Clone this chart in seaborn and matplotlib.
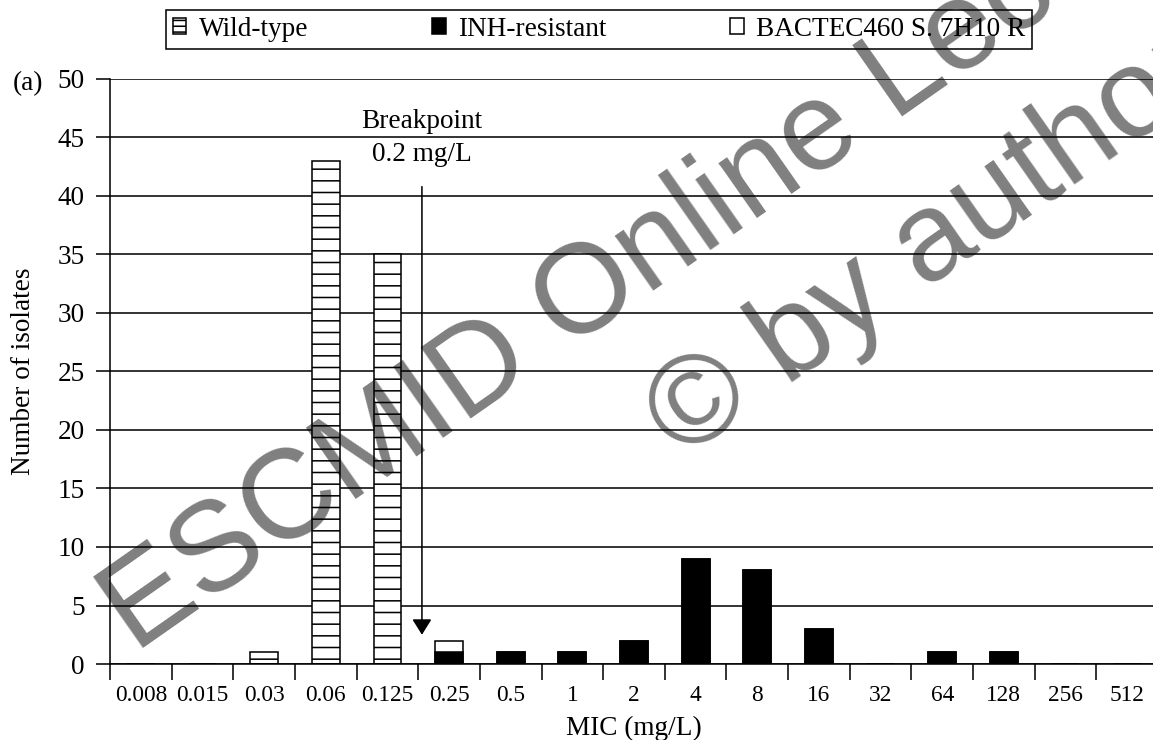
import numpy as np
import pandas as pd
import matplotlib
matplotlib.use("Agg")
import matplotlib.pyplot as plt
import seaborn as sns
from matplotlib.patches import Patch

# ---------------- data ----------------
mic_labels = ["0.008", "0.015", "0.03", "0.06", "0.125", "0.25", "0.5", "1", "2",
              "4", "8", "16", "32", "64", "128", "256", "512"]
wild_type = [0, 0, 1, 43, 35, 0, 0, 0, 0, 0, 0, 0, 0, 0, 0, 0, 0]
inh_resistant = [0, 0, 0, 0, 0, 1, 1, 1, 2, 9, 8, 3, 0, 1, 1, 0, 0]
bactec_s_7h10_r = [0, 0, 0, 0, 0, 1, 0, 0, 0, 0, 0, 0, 0, 0, 0, 0, 0]
series_names = ["Wild-type", "INH-resistant", "BACTEC460 S. 7H10 R"]
y_ticks = list(range(0, 51, 5))
breakpoint_title = "Breakpoint"
breakpoint_text = "0.2 mg/L"
panel_label = "(a)"
watermark_1 = "ESCMID Online Lecture Library"
watermark_2 = "\u00a9 by author"

# ---------------- style ----------------
DPI = 140
W, H = 1153, 740
sns.set_theme(style="ticks")
plt.rcParams['font.family'] = ['Liberation Serif', 'DejaVu Serif']
for k in ['text.color', 'axes.labelcolor', 'xtick.color', 'ytick.color', 'axes.edgecolor']:
    plt.rcParams[k] = 'black'
plt.rcParams['hatch.linewidth'] = 0.8
plt.rcParams['hatch.color'] = 'black'

fig = plt.figure(figsize=(W / DPI, H / DPI), dpi=DPI)
ax = fig.add_axes([110 / W, 76 / H, 1048 / W, 585 / H])

df = pd.DataFrame({
    "MIC": mic_labels,
    "wt": wild_type,
    "inh": inh_resistant,
    "bac": bactec_s_7h10_r,
})
df["inh_bac"] = df["inh"] + df["bac"]

common = dict(x="MIC", order=mic_labels, width=0.45, ax=ax, linewidth=0.8,
              edgecolor='black', saturation=1, errorbar=None)
sns.barplot(data=df, y="wt", color="white", hatch="--", **common)
sns.barplot(data=df, y="inh_bac", color="white", **common)
sns.barplot(data=df, y="inh", color="black", **common)

# ---------------- axes ----------------
ax.set_xlim(-0.5, len(mic_labels) - 0.5)
ax.set_ylim(0, 50)
ax.set_yticks(y_ticks)
ax.set_axisbelow(True)
ax.yaxis.grid(True, color='black', linewidth=0.8)
ax.xaxis.grid(False)
ax.set_xticks(np.arange(-0.5, len(mic_labels), 1.0), minor=True)
ax.tick_params(axis='x', which='minor', length=8, width=0.8, direction='out', bottom=True)
ax.tick_params(axis='x', which='major', length=0, pad=11, labelsize=12)
ax.tick_params(axis='y', which='major', length=7, width=0.8, direction='out', left=True,
               labelsize=14, pad=6)
for s in ['top', 'right']:
    ax.spines[s].set_visible(False)
for s in ['left', 'bottom']:
    ax.spines[s].set_color('black')
    ax.spines[s].set_linewidth(0.8)

ax.set_xlabel("MIC (mg/L)", fontsize=14, labelpad=5)
ax.set_ylabel("Number of isolates", fontsize=14, labelpad=11)

# breakpoint annotation
bp_x = 4.56
ax.annotate("", xy=(bp_x, 2.5), xytext=(bp_x, 40.8),
            arrowprops=dict(arrowstyle='-|>,head_length=0.4,head_width=0.25',
                            color='black', lw=0.8, mutation_scale=17,
                            shrinkA=0, shrinkB=0))
ax.text(bp_x, 45.8, breakpoint_title, ha='center', va='baseline', fontsize=14)
ax.text(bp_x, 43.0, breakpoint_text, ha='center', va='baseline', fontsize=14)

fig.text(28 / W, 1 - 84 / H, panel_label, ha='center', va='center', fontsize=14)

# legend
handles = [Patch(facecolor='white', edgecolor='black', hatch='----', linewidth=0.8),
           Patch(facecolor='black', edgecolor='black', linewidth=0.8),
           Patch(facecolor='white', edgecolor='black', linewidth=0.8)]
leg = fig.legend(handles=handles, labels=series_names, ncol=3, loc='upper center',
                 bbox_to_anchor=(599 / W, 1 - 10 / H), frameon=True, fancybox=False,
                 edgecolor='black', framealpha=1, fontsize=14, handlelength=0.5,
                 handleheight=0.5, handletextpad=0.45, columnspacing=4.55,
                 borderpad=0.25, borderaxespad=0)
leg.get_frame().set_linewidth(0.8)

# watermark
fig.text(860 / W, 1 - 146 / H, watermark_1, rotation=35, rotation_mode='anchor',
         ha='center', va='baseline', fontsize=65, family='Liberation Sans',
         color='black', alpha=0.5, zorder=10)
fig.text(949 / W, 1 - 273 / H, watermark_2, rotation=35, rotation_mode='anchor',
         ha='center', va='baseline', fontsize=65, family='Liberation Sans',
         color='black', alpha=0.5, zorder=10)

fig.savefig("out.png", dpi=DPI)
